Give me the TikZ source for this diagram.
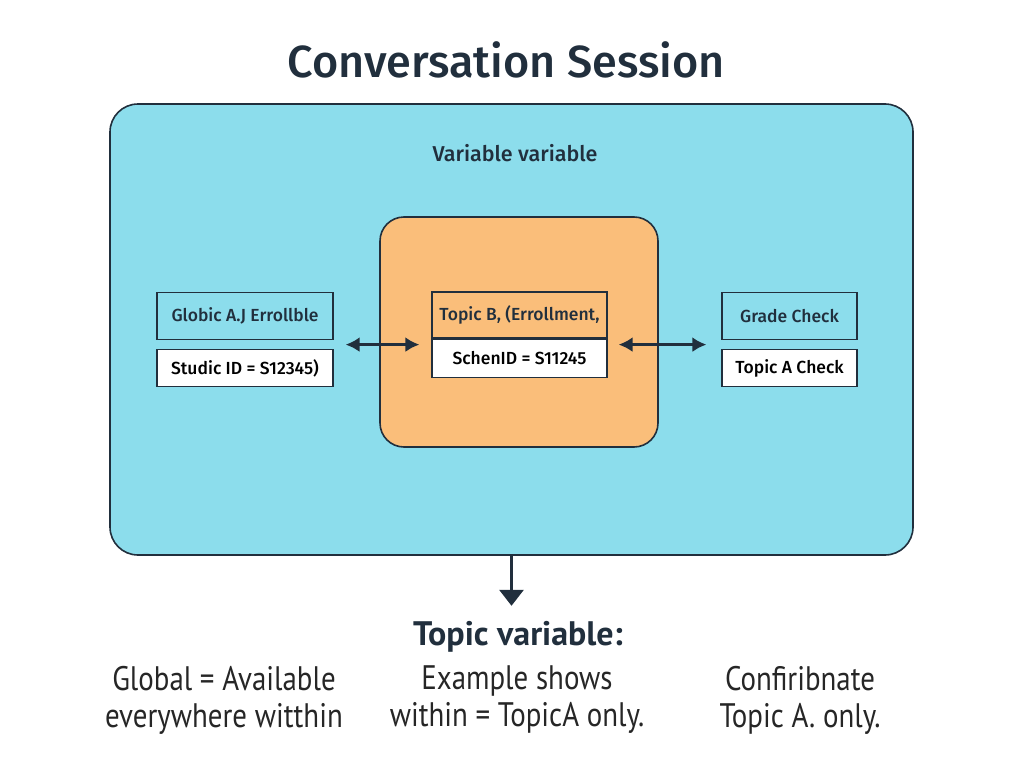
\documentclass[tikz,border=0pt]{standalone}
\usepackage{fontspec}
\setmainfont{Fira Sans}
\newfontfamily\midfont{Fira Sans Medium}
\newfontfamily\notefont{PT Sans}[FakeStretch=0.85]
\newfontfamily\headfont{PT Sans}
\usetikzlibrary{arrows.meta,positioning,calc}
\definecolor{inkdark}{RGB}{33,47,61}
\definecolor{sessblue}{RGB}{140,221,236}
\definecolor{scopeorange}{RGB}{250,190,122}

\begin{document}
\begin{tikzpicture}[x=1pt,y=-1pt,
  region/.style={draw=inkdark, line width=1.6pt, rounded corners=28pt, inner sep=0pt},
  varbox/.style={draw=inkdark, line width=1.2pt, minimum height=47pt, inner sep=0pt, font=\midfont\fontsize{17.5}{21}\selectfont, text=inkdark},
  valbox/.style={draw=inkdark, line width=1.2pt, fill=white, minimum height=37pt, inner sep=0pt, font=\midfont\fontsize{17.5}{21}\selectfont, text=black},
  link/.style={{Latex[length=14pt,width=15pt]}-{Latex[length=14pt,width=15pt]}, line width=3.4pt, draw=inkdark},
  note/.style={font=\notefont\fontsize{34}{37}\selectfont, align=center, text=black!85}
]
\useasboundingbox (0,0) rectangle (1024,768);

\node[font=\midfont\fontsize{45}{50}\selectfont, text=inkdark] (title) at (506,60) {Conversation Session};

% session scope and topic scope
\node[region, fill=sessblue, minimum width=803pt, minimum height=451pt] (session) at (511.5,329.5) {};
\node[font=\midfont\fontsize{21.5}{25}\selectfont, text=inkdark] (sesslabel) at (515,153) {Variable variable};
\node[region, fill=scopeorange, rounded corners=24pt, minimum width=278pt, minimum height=230pt] (topicB) at (519,332) {};

% variables
\node[varbox, fill=sessblue, minimum width=176pt] (globalA) at (245,316) {Globic A.J Errollble};
\node[valbox, minimum width=176pt, below=9pt of globalA] (studentid) {Studic ID = S12345)};

\node[varbox, fill=scopeorange, minimum width=175pt, minimum height=46pt] (topicvar) at (519.5,315) {Topic B, (Errollment,};
\node[valbox, minimum width=175pt, minimum height=38pt, below=0pt of topicvar] (schemid) {SchenID = S11245};

\node[varbox, fill=sessblue, minimum width=135pt] (gradechk) at (789.5,316) {Grade Check};
\node[valbox, minimum width=135pt, below=9pt of gradechk] (topicAchk) {Topic A Check};

\coordinate (leftgap) at ($(globalA.south east)!0.5!(studentid.north east)$);
\coordinate (rightgap) at ($(gradechk.south west)!0.5!(topicAchk.north west)$);

\draw[link, shorten <=12pt, shorten >=12pt] (leftgap) -- (leftgap -| topicvar.west);
\draw[link, shorten <=11pt, shorten >=15pt] (rightgap -| topicvar.east) -- (rightgap);

\draw[-{Triangle[length=16pt,width=24pt]}, line width=3pt, draw=inkdark] (session.south) -- ++(0,50);

% notes
\node[font=\headfont\bfseries\fontsize{34}{40}\selectfont, text=inkdark] (topicnote) at (518,637) {Topic variable:};
\node[note] (globalnote) at (224,700) {Global = Available\\everywhere witthin};
\node[note] (examplenote) at (517,700) {Example shows\\within = TopicA only.};
\node[note] (confnote) at (800,700) {Confiribnate\\Topic A. only.};
\end{tikzpicture}
\end{document}
